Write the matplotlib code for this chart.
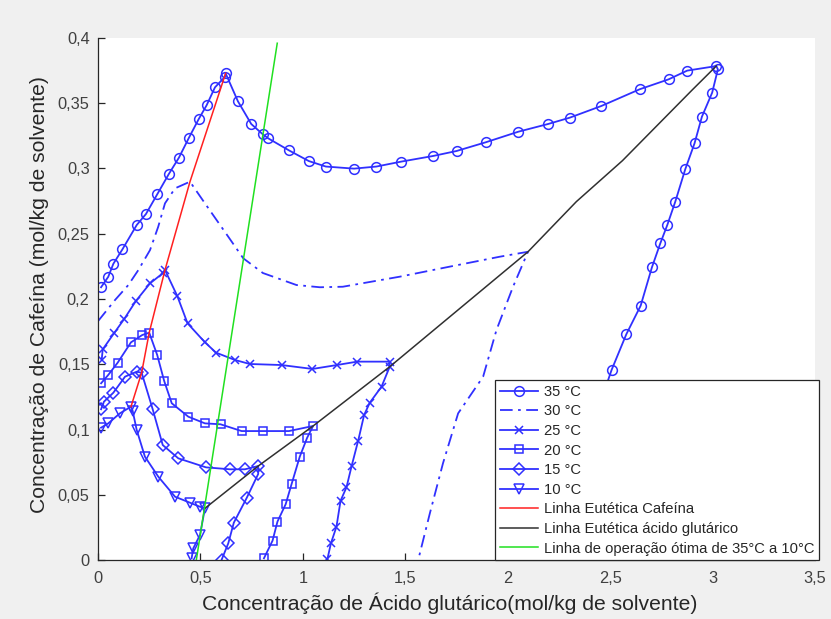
import numpy as np
import matplotlib.pyplot as plt
import matplotlib

matplotlib.rcParams['font.family'] = ['Liberation Sans', 'DejaVu Sans']

# 35 °C isotherm (circles)
x35 = [0.015, 0.050, 0.075, 0.119, 0.189, 0.234, 0.289, 0.345, 0.395, 0.444,
       0.491, 0.530, 0.571, 0.620, 0.623, 0.683, 0.748, 0.803, 0.831, 0.932,
       1.029, 1.112, 1.250, 1.359, 1.481, 1.636, 1.750, 1.893, 2.052, 2.197,
       2.302, 2.457, 2.644, 2.785, 2.876, 3.018, 3.026, 2.998, 2.948, 2.912,
       2.867, 2.818, 2.779, 2.745, 2.704, 2.649, 2.579, 2.507, 2.44, 2.37,
       2.31, 2.24]
y35 = [0.209, 0.217, 0.227, 0.238, 0.2567, 0.2651, 0.2802, 0.2956, 0.3083, 0.3236,
       0.3377, 0.3484, 0.3622, 0.3703, 0.3729, 0.3515, 0.3341, 0.3264, 0.3231, 0.3139,
       0.3057, 0.3015, 0.2999, 0.3015, 0.3053, 0.3096, 0.3134, 0.3201, 0.3282, 0.3341,
       0.3389, 0.3479, 0.3607, 0.3683, 0.3750, 0.3785, 0.3760, 0.3581, 0.3397, 0.3193,
       0.2996, 0.2746, 0.2567, 0.2427, 0.2243, 0.1949, 0.1730, 0.1456, 0.115, 0.080,
       0.045, 0.0]

# 30 °C isotherm (dash-dot, no markers)
x30 = [0.0, 0.018, 0.083, 0.148, 0.197, 0.254, 0.294, 0.327, 0.376, 0.449,
       0.522, 0.579, 0.636, 0.709, 0.805, 0.969, 1.083, 1.195, 1.473, 1.717,
       1.961, 2.099, 2.026, 1.945, 1.880, 1.758, 1.684, 1.620, 1.567]
y30 = [0.183, 0.1865, 0.1992, 0.2107, 0.2222, 0.2375, 0.2554, 0.2733, 0.2848, 0.2899,
       0.2733, 0.2605, 0.2477, 0.2312, 0.2199, 0.2107, 0.2090, 0.2094, 0.2171, 0.2248,
       0.2324, 0.2362, 0.2094, 0.1762, 0.1405, 0.1124, 0.0741, 0.0358, 0.0025]

# 25 °C isotherm (x)
x25 = [0.018, 0.023, 0.078, 0.128, 0.185, 0.254, 0.316, 0.327, 0.387, 0.437,
       0.522, 0.576, 0.668, 0.741, 0.896, 1.047, 1.166, 1.265, 1.424, 1.424,
       1.384, 1.327, 1.299, 1.270, 1.238, 1.213, 1.184, 1.164, 1.137, 1.120]
y25 = [0.1533, 0.1614, 0.1737, 0.1847, 0.1985, 0.2120, 0.2197, 0.2222, 0.2023, 0.1814,
       0.1668, 0.1589, 0.1533, 0.1502, 0.1494, 0.1464, 0.1494, 0.1520, 0.1520, 0.1481,
       0.1328, 0.1206, 0.1111, 0.0914, 0.0720, 0.0557, 0.0454, 0.0255, 0.0128, 0.0008]

# 20 °C isotherm (squares)
x20 = [0.015, 0.050, 0.096, 0.161, 0.216, 0.250, 0.289, 0.323, 0.360, 0.441,
       0.522, 0.598, 0.701, 0.803, 0.932, 1.050, 1.021, 0.985, 0.945, 0.916,
       0.876, 0.852, 0.810]
y20 = [0.1354, 0.1418, 0.1512, 0.1668, 0.1724, 0.1742, 0.1571, 0.1372, 0.1201, 0.1098,
       0.1047, 0.1040, 0.0988, 0.0988, 0.0988, 0.1027, 0.0937, 0.0792, 0.0582, 0.0427,
       0.0294, 0.0148, 0.0013]

# 15 °C isotherm (diamonds)
x15 = [0.015, 0.029, 0.075, 0.132, 0.189, 0.213, 0.267, 0.316, 0.392, 0.527,
       0.644, 0.717, 0.782, 0.782, 0.725, 0.663, 0.636, 0.603]
y15 = [0.1155, 0.1213, 0.1282, 0.1405, 0.1443, 0.1435, 0.1155, 0.0881, 0.0779, 0.0710,
       0.0695, 0.0695, 0.0720, 0.0659, 0.0473, 0.0286, 0.0128, 0.0]

# 10 °C isotherm (triangles)
x10 = [0.015, 0.050, 0.107, 0.161, 0.169, 0.189, 0.229, 0.294, 0.376, 0.449,
       0.498, 0.522, 0.498, 0.465, 0.457]
y10 = [0.1014, 0.1047, 0.1124, 0.1175, 0.1144, 0.0996, 0.0792, 0.0639, 0.0485, 0.0439,
       0.0408, 0.0396, 0.0192, 0.0089, 0.0013]

# eutectic lines
xcaf = [0.161, 0.213, 0.250, 0.327, 0.449, 0.623]
ycaf = [0.1175, 0.1435, 0.1742, 0.2222, 0.2899, 0.3729]
xglu = [0.522, 0.782, 1.050, 1.424, 2.099, 2.335, 2.560, 2.900, 3.018]
yglu = [0.0396, 0.0720, 0.1027, 0.1481, 0.2362, 0.2746, 0.3060, 0.3601, 0.3785]

# optimal operating line
xop = [0.48, 0.875]
yop = [0.0, 0.396]

labels = ['35 °C', '30 °C', '25 °C', '20 °C', '15 °C', '10 °C',
          'Linha Eutética Cafeína', 'Linha Eutética ácido glutárico',
          'Linha de operação ótima de 35°C a 10°C']

blue = '#3030ff'

fig = plt.figure(figsize=(8.31, 6.19), dpi=100, facecolor='#f0f0f0')
ax = fig.add_axes([98/831, 1 - 560/619, 717/831, 522/619])

ax.plot(x35, y35, color=blue, lw=1.3, marker='o', ms=7, mfc='none', mew=1.1, label=labels[0])
ax.plot(x30, y30, color=blue, lw=1.3, ls=(0, (7, 3, 1.5, 3)), label=labels[1])
ax.plot(x25, y25, color=blue, lw=1.3, marker='x', ms=5.5, mew=1.1, label=labels[2])
ax.plot(x20, y20, color=blue, lw=1.3, marker='s', ms=6, mfc='none', mew=1.1, label=labels[3])
ax.plot(x15, y15, color=blue, lw=1.3, marker='D', ms=6, mfc='none', mew=1.1, label=labels[4])
ax.plot(x10, y10, color=blue, lw=1.3, marker='v', ms=7, mfc='none', mew=1.1, label=labels[5])
ax.plot(xcaf, ycaf, color='#ff2020', lw=1.1, label=labels[6])
ax.plot(xglu, yglu, color='#303030', lw=1.1, label=labels[7])
ax.plot(xop, yop, color='#20e020', lw=1.1, label=labels[8])

ax.set_xlim(0, 3.5)
ax.set_ylim(0, 0.4)
ax.spines['top'].set_visible(False)
ax.spines['right'].set_visible(False)
for s in ['left', 'bottom']:
    ax.spines[s].set_color('#262626')
    ax.spines[s].set_linewidth(0.9)

xt = np.arange(0, 3.51, 0.5)
yt = np.arange(0, 0.401, 0.05)
ax.set_xticks(xt)
ax.set_yticks(yt)
ax.set_xticklabels([f'{v:g}'.replace('.', ',') for v in xt])
ax.set_yticklabels([f'{round(v, 2):g}'.replace('.', ',') for v in yt])
ax.tick_params(direction='in', length=5, width=0.9, colors='#262626',
               labelsize=11.8, labelcolor='#404040')
ax.tick_params(axis='x', pad=8)
ax.tick_params(axis='y', pad=6)

ax.set_xlabel('Concentração de Ácido glutárico(mol/kg de solvente)',
              fontsize=15.2, color='#262626', labelpad=4)
ax.set_ylabel('Concentração de Cafeína (mol/kg de solvente)',
              fontsize=15.2, color='#262626', labelpad=6)
ax.xaxis.set_label_coords(0.491, -0.062)
ax.yaxis.set_label_coords(-0.069, 0.508)

leg = ax.legend(loc='lower right', bbox_to_anchor=(1.005, 0), borderaxespad=0,
                fontsize=10.6, fancybox=False, framealpha=1, edgecolor='#262626',
                handlelength=2.6, labelspacing=0.38, borderpad=0.3, handletextpad=0.4)
leg.get_frame().set_linewidth(0.9)
for t in leg.get_texts():
    t.set_color('#262626')

fig.savefig('out.png', dpi=100, facecolor=fig.get_facecolor())
